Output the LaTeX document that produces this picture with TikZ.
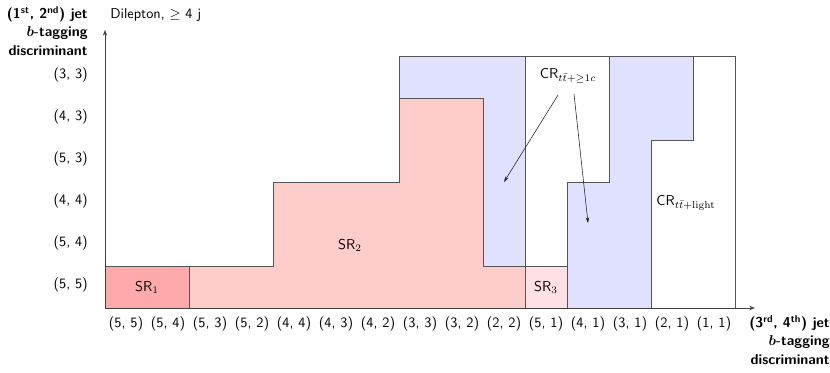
\documentclass[tikz,border=0pt]{standalone}
\usepackage{amsmath,bm}
\usetikzlibrary{arrows.meta}
\renewcommand{\familydefault}{\sfdefault}
\definecolor{srone}{HTML}{FFAAAA}
\definecolor{srtwo}{HTML}{FFCCCC}
\definecolor{srthree}{HTML}{FFE0E4}
\definecolor{crc}{HTML}{E0E0FF}
\definecolor{edge}{HTML}{555555}
\begin{document}
\begin{tikzpicture}[x=0.7pt,y=-0.7pt,
  region/.style={draw=edge,line width=0.5pt,line join=miter},
  axis/.style={draw=black!75,line width=0.5pt,-{Stealth[length=4pt,width=3pt]}},
  tick/.style={font=\normalsize,inner sep=0pt},
  axlabel/.style={font=\bfseries,align=right,inner sep=0pt},
  note/.style={draw=black!85,line width=0.4pt,-{Stealth[length=4pt,width=2.5pt]}}]
\useasboundingbox (0,0) rectangle (830,372);
% regions
\path[region,fill=white] (105,266) -- (273,266) -- (273,182) -- (399,182) -- (399,56) -- (525,56) -- (525,308) -- (105,308) -- cycle;
\path[region,fill=crc] (399,182) -- (399,56) -- (525,56) -- (525,266) -- (483,266) -- (483,182) -- cycle;
\path[region,fill=srtwo] (189,308) -- (189,266) -- (273,266) -- (273,182) -- (399,182) -- (399,98) -- (483,98) -- (483,266) -- (525,266) -- (525,308) -- cycle;
\path[region,fill=srone] (105,266) rectangle (189,308);
\path[region,fill=white] (525,266) -- (525,56) -- (609,56) -- (609,182) -- (567,182) -- (567,266) -- cycle;
\path[region,fill=srthree] (525,266) rectangle (567,308);
\path[region,fill=white] (693,56) -- (735,56) -- (735,308) -- (651,308) -- (651,140) -- (693,140) -- cycle;
\path[region,fill=crc] (567,308) -- (567,182) -- (609,182) -- (609,56) -- (693,56) -- (693,140) -- (651,140) -- (651,308) -- cycle;
% axes
\coordinate (o) at (105,308);
\coordinate (xend) at (755,308);
\coordinate (yend) at (105,30);
\draw[axis] (o) -- (xend);
\draw[axis] (o) -- (yend);
% x tick labels
\foreach \lab [count=\i from 0] in {(5, 5),(5, 4),(5, 3),(5, 2),(4, 4),(4, 3),(4, 2),(3, 3),(3, 2),(2, 2),(5, 1),(4, 1),(3, 1),(2, 1),(1, 1)}
  \node[tick] (xt\i) at (126+42*\i,324) {\lab};
% y tick labels
\foreach \lab [count=\i from 0] in {(3, 3),(4, 3),(5, 3),(4, 4),(5, 4),(5, 5)}
  \node[tick,anchor=east] (yt\i) at (88,75+42*\i) {\lab};
% axis labels
\node[axlabel,anchor=north east] (ylab) at (88,6) {(1\textsuperscript{st}, 2\textsuperscript{nd}) jet\\[1pt]$\bm{b}$-tagging\\[1pt]discriminant};
\node[axlabel,anchor=north east] (xlab) at (830,315) {(3\textsuperscript{rd}, 4\textsuperscript{th}) jet\\[1pt]$\bm{b}$-tagging\\[1pt]discriminant};
\node[anchor=west,inner sep=0pt] (chan) at (110,15) {Dilepton, $\geq$ 4 j};
% region labels
\node (sr1) at (147,287) {SR$_1$};
\node (sr2) at (350,245) {SR$_2$};
\node (sr3) at (546,287) {SR$_3$};
\node (crl) at (686,203) {CR$_{t\bar{t}+\mathrm{light}}$};
\node (crc) at (568,76) {CR$_{t\bar{t}+\geq 1c}$};
\coordinate (ca) at (504,182);
\coordinate (cb) at (588,223);
\draw[note] (558,95) -- (ca);
\draw[note] (574,94) -- (cb);
\end{tikzpicture}
\end{document}
